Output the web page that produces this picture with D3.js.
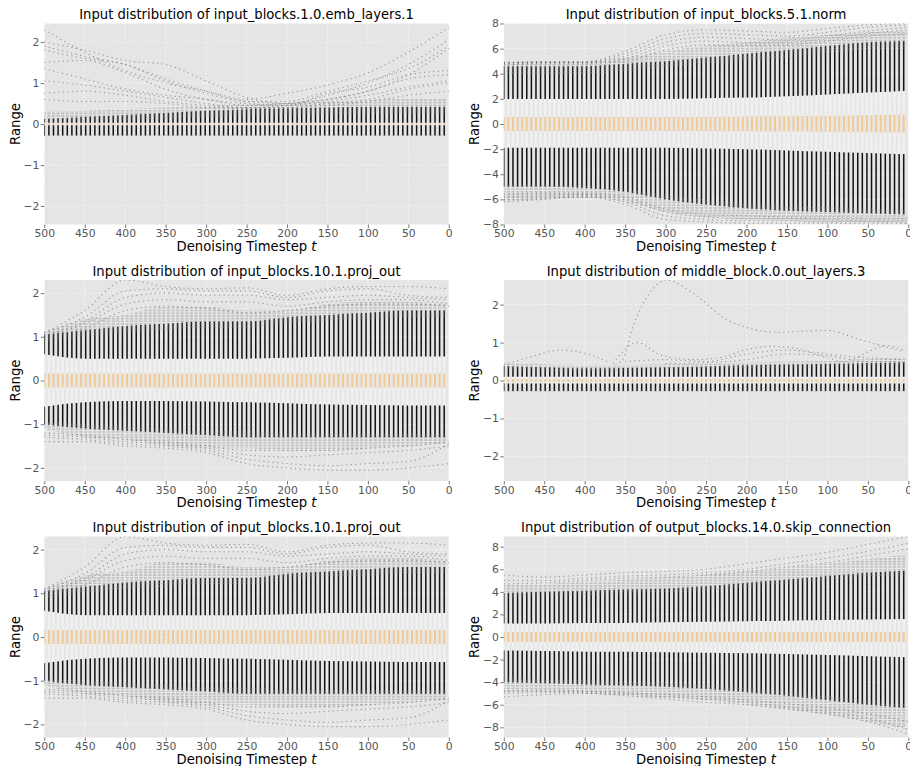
<!DOCTYPE html>
<html>
<head>
<meta charset="utf-8">
<script src="https://cdn.jsdelivr.net/npm/d3@7"></script>
<style>
  html, body { margin: 0; padding: 0; background: #fff; }
  svg { display: block; font-family: "DejaVu Sans", sans-serif; }
</style>
</head>
<body>
<div id="chart"></div>
<script>
// timesteps where values were read, and where the boxes sit
const knotT    = [500, 450, 400, 350, 300, 250, 200, 150, 100, 50, 0];
const boxSteps = d3.range(500, 0, -500 / 88);
const xTicks   = [500, 450, 400, 350, 300, 250, 200, 150, 100, 50, 0];

// --- input_blocks.1.0.emb_layers.1
const embTitle = 'Input distribution of input_blocks.1.0.emb_layers.1';
const embYLim = 2.45;
const embYTicks = [-2, -1, 0, 1, 2];
const embMedLo = -0.02, embMedHi = 0.02;
const embBoxLo = -0.03, embBoxHi = 0.03;
const embWhiskHi = [0.12, 0.17, 0.22, 0.27, 0.32, 0.36, 0.38, 0.40, 0.42, 0.42, 0.42];
const embWhiskLo = -0.28;
const embFadeHiFrom = [0.04, 0.06, 0.08, 0.12, 0.16, 0.20, 0.22, 0.24, 0.25, 0.25, 0.25];
const embFadeHiTo   = [0.30, 0.32, 0.36, 0.40, 0.44, 0.48, 0.50, 0.55, 0.58, 0.62, 0.62];
const embFadeLoFrom = -0.26, embFadeLoTo = -0.29;
const embOutliers = [
  [2.30, 1.75, 1.30, 1.00, 0.80, 0.60, 0.75, 0.95, 1.25, 1.75, 2.35],
  [2.00, 1.80, 1.55, 1.45, 1.05, 0.65, 0.50, 0.70, 1.00, 1.45, 2.05],
  [1.90, 1.65, 1.45, 1.05, 0.75, 0.55, 0.55, 0.80, 1.05, 1.35, 1.90],
  [1.80, 1.60, 1.45, 1.10, 0.80, 0.55, 0.50, 0.60, 0.80, 1.20, 1.85],
  [1.50, 1.55, 1.25, 0.85, 0.60, 0.50, 0.45, 0.75, 0.90, 1.20, 1.30],
  [1.35, 1.10, 0.85, 0.70, 0.60, 0.45, 0.50, 0.60, 0.80, 1.10, 1.20],
  [1.05, 0.95, 0.80, 0.65, 0.50, 0.40, 0.45, 0.55, 0.70, 0.90, 1.05],
  [0.75, 0.80, 0.70, 0.55, 0.45, 0.40, 0.40, 0.50, 0.60, 0.85, 1.00],
  [0.60, 0.55, 0.55, 0.50, 0.40, 0.38, 0.40, 0.45, 0.55, 0.70, 0.80]
];

// --- input_blocks.5.1.norm
const normTitle = 'Input distribution of input_blocks.5.1.norm';
const normYLim = 8;
const normYTicks = [-8, -6, -4, -2, 0, 2, 4, 6, 8];
const normMedLo = [-0.55, -0.55, -0.55, -0.55, -0.55, -0.55, -0.58, -0.6, -0.62, -0.65, -0.68];
const normMedHi = [0.55, 0.55, 0.55, 0.55, 0.55, 0.55, 0.6, 0.62, 0.65, 0.7, 0.75];
const normBoxLo = [-1.9, -1.9, -1.9, -1.9, -1.9, -1.95, -2.0, -2.1, -2.2, -2.3, -2.4];
const normBoxHi = [2.0, 2.0, 2.0, 2.0, 2.0, 2.05, 2.1, 2.2, 2.35, 2.5, 2.65];
const normWhiskHi = [4.6, 4.6, 4.6, 4.8, 5.0, 5.3, 5.6, 5.9, 6.2, 6.5, 6.6];
const normWhiskLo = [-5.0, -5.0, -5.1, -5.4, -6.0, -6.4, -6.7, -6.9, -7.0, -7.1, -7.2];
const normFadeHiFrom = [4.0, 4.0, 4.0, 4.2, 4.5, 4.8, 5.0, 5.3, 5.6, 5.9, 6.0];
const normFadeHiTo   = [4.9, 4.95, 4.95, 5.3, 5.8, 6.2, 6.5, 6.9, 7.1, 7.3, 7.4];
const normFadeLoFrom = [-4.8, -4.8, -4.9, -5.2, -5.6, -6.0, -6.3, -6.5, -6.6, -6.7, -6.8];
const normFadeLoTo   = [-6.2, -6.0, -5.9, -6.2, -7.0, -7.4, -7.6, -7.7, -7.8, -7.8, -7.8];
const normOutliers = [
  [4.9, 4.95, 4.95, 5.8, 7.1, 7.5, 7.4, 7.3, 7.6, 7.9, 8.0],
  [4.9, 4.95, 4.95, 5.6, 6.8, 7.2, 7.1, 7.0, 7.3, 7.7, 7.9],
  [4.8, 4.9, 4.9, 5.4, 6.5, 6.9, 6.8, 6.7, 7.0, 7.4, 7.7],
  [4.8, 4.85, 4.85, 5.2, 6.2, 6.6, 6.5, 6.5, 6.8, 7.2, 7.5],
  [4.7, 4.8, 4.8, 5.0, 5.9, 6.3, 6.3, 6.3, 6.6, 7.0, 7.2],
  [-6.2, -6.0, -5.8, -6.4, -7.6, -7.8, -7.9, -7.9, -7.9, -7.95, -7.95],
  [-6.0, -5.9, -5.7, -6.2, -7.3, -7.6, -7.7, -7.7, -7.8, -7.8, -7.9],
  [-5.8, -5.7, -5.6, -6.0, -7.0, -7.4, -7.5, -7.5, -7.6, -7.7, -7.7],
  [-5.6, -5.5, -5.5, -5.8, -6.8, -7.2, -7.3, -7.4, -7.4, -7.5, -7.5]
];

// --- input_blocks.10.1.proj_out
const projTitle = 'Input distribution of input_blocks.10.1.proj_out';
const projYLim = 2.3;
const projYTicks = [-2, -1, 0, 1, 2];
const projMedLo = -0.16, projMedHi = 0.16;
const projBoxLo = [-0.6, -0.5, -0.47, -0.47, -0.48, -0.5, -0.52, -0.55, -0.56, -0.57, -0.57];
const projBoxHi = [0.6, 0.5, 0.5, 0.5, 0.5, 0.5, 0.52, 0.55, 0.55, 0.55, 0.55];
const projWhiskHi = [1.05, 1.15, 1.25, 1.3, 1.35, 1.35, 1.45, 1.5, 1.55, 1.6, 1.6];
const projWhiskLo = [-1.0, -1.1, -1.15, -1.2, -1.25, -1.3, -1.3, -1.3, -1.3, -1.3, -1.3];
const projFadeHiFrom = [0.9, 1.0, 1.1, 1.15, 1.2, 1.2, 1.3, 1.35, 1.4, 1.45, 1.45];
const projFadeHiTo   = [1.1, 1.4, 1.5, 1.7, 1.7, 1.6, 1.6, 1.75, 1.8, 1.8, 1.75];
const projFadeLoFrom = [-0.95, -1.0, -1.05, -1.1, -1.15, -1.15, -1.2, -1.2, -1.2, -1.2, -1.2];
const projFadeLoTo   = [-1.1, -1.3, -1.35, -1.5, -1.55, -1.55, -1.6, -1.6, -1.55, -1.5, -1.45];
const projOutliers = [
  [1.1, 1.6, 2.3, 2.15, 2.1, 2.12, 1.95, 2.1, 2.15, 2.15, 2.1],
  [1.1, 1.45, 2.05, 2.1, 2.05, 2.05, 1.9, 2.05, 2.1, 1.95, 1.9],
  [1.05, 1.35, 1.9, 2.0, 1.95, 1.95, 1.85, 1.9, 1.95, 1.9, 1.85],
  [1.0, 1.3, 1.75, 1.85, 1.8, 1.8, 1.7, 1.8, 1.85, 1.85, 1.75],
  [1.0, 1.2, 1.6, 1.7, 1.65, 1.55, 1.6, 1.7, 1.75, 1.75, 1.7],
  [-1.4, -1.4, -1.5, -1.55, -1.65, -1.9, -2.0, -2.05, -2.05, -2.0, -1.9],
  [-1.3, -1.35, -1.45, -1.5, -1.6, -1.8, -1.9, -1.95, -1.9, -1.85, -1.45],
  [-1.25, -1.3, -1.4, -1.45, -1.55, -1.7, -1.75, -1.7, -1.65, -1.6, -1.5],
  [-1.2, -1.25, -1.35, -1.4, -1.5, -1.6, -1.6, -1.6, -1.55, -1.5, -1.4]
];

// --- middle_block.0.out_layers.3
const midTitle = 'Input distribution of middle_block.0.out_layers.3';
const midYLim = 2.65;
const midYTicks = [-2, -1, 0, 1, 2];
const midMedLo = -0.04, midMedHi = 0.04;
const midBoxLo = -0.08, midBoxHi = 0.1;
const midWhiskHi = [0.38, 0.35, 0.32, 0.33, 0.35, 0.37, 0.4, 0.42, 0.44, 0.46, 0.48];
const midWhiskLo = -0.28;
const midFadeHiFrom = [0.28, 0.26, 0.25, 0.26, 0.28, 0.3, 0.32, 0.34, 0.36, 0.38, 0.4];
const midFadeHiTo   = [0.47, 0.43, 0.38, 0.4, 0.43, 0.45, 0.48, 0.5, 0.52, 0.57, 0.58];
const midFadeLoFrom = -0.22, midFadeLoTo = -0.29;
const midOutT = [
  [500, 470, 430, 400, 370],
  [362, 353, 340, 320, 298, 266, 224, 200, 162, 130, 100, 60, 30, 5],
  [365, 335, 307, 266, 234, 199, 171, 142, 100, 80, 45, 28, 5],
  [350, 300, 250, 200, 150, 120, 80, 50, 5],
  [300, 250, 200, 150, 100, 50, 5]
];
const midOutV = [
  [0.42, 0.6, 0.8, 0.72, 0.48],
  [0.42, 0.55, 1.44, 2.3, 2.65, 2.3, 1.6, 1.4, 1.27, 1.3, 1.32, 1.08, 0.9, 0.76],
  [0.45, 1.0, 0.68, 0.55, 0.6, 0.82, 0.9, 0.86, 0.6, 0.5, 0.8, 0.92, 0.8],
  [0.5, 0.55, 0.5, 0.7, 0.8, 0.75, 0.65, 0.6, 0.55],
  [0.45, 0.47, 0.55, 0.7, 0.65, 0.5, 0.5]
];

// --- output_blocks.14.0.skip_connection
const skipTitle = 'Input distribution of output_blocks.14.0.skip_connection';
const skipYLim = 8.9;
const skipYTicks = [-8, -6, -4, -2, 0, 2, 4, 6, 8];
const skipMedLo = -0.45, skipMedHi = 0.45;
const skipBoxLo = [-1.2, -1.25, -1.3, -1.3, -1.35, -1.4, -1.45, -1.5, -1.6, -1.7, -1.8];
const skipBoxHi = [1.2, 1.2, 1.25, 1.25, 1.3, 1.35, 1.4, 1.45, 1.5, 1.55, 1.6];
const skipWhiskHi = [3.9, 4.0, 4.1, 4.2, 4.3, 4.5, 4.8, 5.1, 5.4, 5.7, 5.9];
const skipWhiskLo = [-4.0, -4.1, -4.2, -4.3, -4.4, -4.6, -4.9, -5.2, -5.6, -6.0, -6.3];
const skipFadeHiFrom = [3.5, 3.6, 3.7, 3.8, 3.9, 4.1, 4.4, 4.7, 5.0, 5.3, 5.5];
const skipFadeHiTo   = [4.6, 4.7, 4.9, 5.1, 5.3, 5.5, 5.8, 6.1, 6.5, 6.9, 7.3];
const skipFadeLoFrom = [-3.6, -3.7, -3.8, -3.9, -4.0, -4.2, -4.5, -4.8, -5.2, -5.6, -5.9];
const skipFadeLoTo   = [-4.9, -4.9, -5.0, -5.2, -5.4, -5.6, -6.0, -6.4, -6.9, -7.5, -8.2];
const skipOutliers = [
  [5.5, 5.3, 5.5, 5.7, 5.8, 6.0, 6.5, 7.0, 7.5, 8.2, 8.9],
  [5.0, 5.0, 5.2, 5.4, 5.5, 5.7, 6.0, 6.5, 7.0, 7.6, 8.3],
  [4.7, 4.8, 5.0, 5.2, 5.3, 5.5, 5.8, 6.2, 6.6, 7.2, 7.8],
  [-5.3, -5.1, -5.0, -5.2, -5.5, -5.8, -6.0, -6.4, -6.8, -7.5, -8.6],
  [-5.0, -4.9, -4.9, -5.0, -5.3, -5.5, -5.8, -6.2, -6.6, -7.2, -8.2],
  [-4.8, -4.7, -4.8, -4.9, -5.1, -5.3, -5.6, -5.9, -6.3, -6.8, -7.5]
];

// panel tables built from the arrays above
const pEmb = { title: embTitle, ylim: embYLim, yticks: embYTicks,
  med: [embMedLo, embMedHi], box: [embBoxLo, embBoxHi], whisk: [embWhiskLo, embWhiskHi],
  fadeHi: [embFadeHiFrom, embFadeHiTo], fadeLo: [embFadeLoTo, embFadeLoFrom],
  outT: embOutliers.map(() => knotT), outV: embOutliers };
const pNorm = { title: normTitle, ylim: normYLim, yticks: normYTicks,
  med: [normMedLo, normMedHi], box: [normBoxLo, normBoxHi], whisk: [normWhiskLo, normWhiskHi],
  fadeHi: [normFadeHiFrom, normFadeHiTo], fadeLo: [normFadeLoTo, normFadeLoFrom],
  outT: normOutliers.map(() => knotT), outV: normOutliers };
const pProj = { title: projTitle, ylim: projYLim, yticks: projYTicks,
  med: [projMedLo, projMedHi], box: [projBoxLo, projBoxHi], whisk: [projWhiskLo, projWhiskHi],
  fadeHi: [projFadeHiFrom, projFadeHiTo], fadeLo: [projFadeLoTo, projFadeLoFrom],
  outT: projOutliers.map(() => knotT), outV: projOutliers };
const pMid = { title: midTitle, ylim: midYLim, yticks: midYTicks,
  med: [midMedLo, midMedHi], box: [midBoxLo, midBoxHi], whisk: [midWhiskLo, midWhiskHi],
  fadeHi: [midFadeHiFrom, midFadeHiTo], fadeLo: [midFadeLoTo, midFadeLoFrom],
  outT: midOutT, outV: midOutV };
const pSkip = { title: skipTitle, ylim: skipYLim, yticks: skipYTicks,
  med: [skipMedLo, skipMedHi], box: [skipBoxLo, skipBoxHi], whisk: [skipWhiskLo, skipWhiskHi],
  fadeHi: [skipFadeHiFrom, skipFadeHiTo], fadeLo: [skipFadeLoTo, skipFadeLoFrom],
  outT: skipOutliers.map(() => knotT), outV: skipOutliers };

const grid = [[pEmb, pNorm], [pProj, pMid], [pProj, pSkip]];

// layout
const colX = [44.3, 503.8];
const rowY = [23.5, 280, 536.5];
const plotW = 404.5, plotH = 201;

const val = (a, i) => Array.isArray(a) ? a[i] : a;
const fmt = d => d < 0 ? '\u2212' + Math.abs(d) : String(d);

const svg = d3.select('#chart').append('svg')
  .attr('width', 910).attr('height', 766);
const defs = svg.append('defs');

let pid = 0;
function drawPanel(p, x0, y0) {
  const id = pid++;
  const x = d3.scaleLinear().domain([500, 0]).range([x0, x0 + plotW]);
  const y = d3.scaleLinear().domain([-p.ylim, p.ylim]).range([y0 + plotH, y0]);
  const g = svg.append('g');

  g.append('rect')
    .attr('x', x0).attr('y', y0).attr('width', plotW).attr('height', plotH)
    .attr('fill', '#e5e5e5');

  defs.append('clipPath').attr('id', `frame${id}`)
    .append('rect').attr('x', x0).attr('y', y0).attr('width', plotW).attr('height', plotH);

  // grid
  const gg = g.append('g').attr('stroke', '#fff').attr('stroke-width', 0.8)
    .attr('stroke-dasharray', '2.5,2').attr('opacity', 0.7);
  gg.selectAll('line.vx').data(xTicks).join('line')
    .attr('x1', d => x(d)).attr('x2', d => x(d)).attr('y1', y0).attr('y2', y0 + plotH);
  gg.selectAll('line.hy').data(p.yticks).join('line')
    .attr('y1', d => y(d)).attr('y2', d => y(d)).attr('x1', x0).attr('x2', x0 + plotW);

  // one band of box lines, clipped to the area between two boundaries
  const band = (name, lo, hi, color, width, opacity, dash) => {
    const area = d3.area()
      .x(d => x(d.t)).y0(d => y(d.lo)).y1(d => y(d.hi))
      .curve(d3.curveMonotoneX);
    const pts = knotT.map((t, i) => ({ t, lo: val(lo, i), hi: val(hi, i) }));
    const cid = `b${id}_${name}`;
    defs.append('clipPath').attr('id', cid).append('path').attr('d', area(pts));
    g.append('g').attr('clip-path', `url(#${cid})`)
      .selectAll('line').data(boxSteps).join('line')
        .attr('x1', d => x(d)).attr('x2', d => x(d))
        .attr('y1', y0).attr('y2', y0 + plotH)
        .attr('stroke', color).attr('stroke-width', width)
        .attr('stroke-opacity', opacity)
        .attr('stroke-dasharray', dash || null);
  };

  band('box', p.box[0], p.box[1], '#f0f0f0', 2.8, 1);
  band('med', p.med[0], p.med[1], '#efc994', 2, 1);
  band('wHi', p.box[1], p.whisk[1], '#111', 1.5, 1);
  band('wLo', p.whisk[0], p.box[0], '#111', 1.5, 1);
  band('fHi', p.fadeHi[0], p.fadeHi[1], '#8a8a8a', 3, 0.42, '1.6,1.1');
  band('fLo', p.fadeLo[0], p.fadeLo[1], '#8a8a8a', 3, 0.42, '1.6,1.1');

  // outlier traces
  const line = d3.line().x(d => x(d[0])).y(d => y(d[1])).curve(d3.curveMonotoneX);
  g.append('g').attr('clip-path', `url(#frame${id})`)
    .selectAll('path').data(p.outV.map((vs, k) => vs.map((v, i) => [p.outT[k][i], v])))
    .join('path')
      .attr('d', line)
      .attr('fill', 'none').attr('stroke', '#555').attr('stroke-width', 1.1)
      .attr('stroke-opacity', 0.6).attr('stroke-dasharray', '1.1,3.5');

  // axes
  const ax = g.append('g').attr('transform', `translate(0,${y0 + plotH})`)
    .call(d3.axisBottom(x).tickValues(xTicks).tickSize(3.5).tickPadding(1.5).tickFormat(fmt));
  const ay = g.append('g').attr('transform', `translate(${x0},0)`)
    .call(d3.axisLeft(y).tickValues(p.yticks).tickSize(3.5).tickPadding(1.5).tickFormat(fmt));
  [ax, ay].forEach(a => {
    a.select('.domain').remove();
    a.attr('font-family', null).attr('font-size', null);
    a.selectAll('line').attr('stroke', '#555').attr('stroke-width', 0.8);
    a.selectAll('text').attr('fill', '#555').style('font-size', '10.8px');
  });

  // labels
  g.append('text')
    .attr('x', x0 + plotW / 2).attr('y', y0 - 4.5)
    .attr('text-anchor', 'middle').style('font-size', '13.2px').attr('fill', '#000')
    .text(p.title);
  g.append('text')
    .attr('transform', `translate(${x0 - 24.5},${y0 + plotH / 2}) rotate(-90)`)
    .attr('text-anchor', 'middle').style('font-size', '13.2px').attr('fill', '#000')
    .text('Range');
  const xl = g.append('text')
    .attr('x', x0 + plotW / 2).attr('y', y0 + plotH + 26)
    .attr('text-anchor', 'middle').style('font-size', '13.2px').attr('fill', '#000');
  xl.append('tspan').text('Denoising Timestep ');
  xl.append('tspan').style('font-style', 'italic').text('t');
}

grid.forEach((row, r) => row.forEach((p, c) => drawPanel(p, colX[c], rowY[r])));
</script>
</body>
</html>
